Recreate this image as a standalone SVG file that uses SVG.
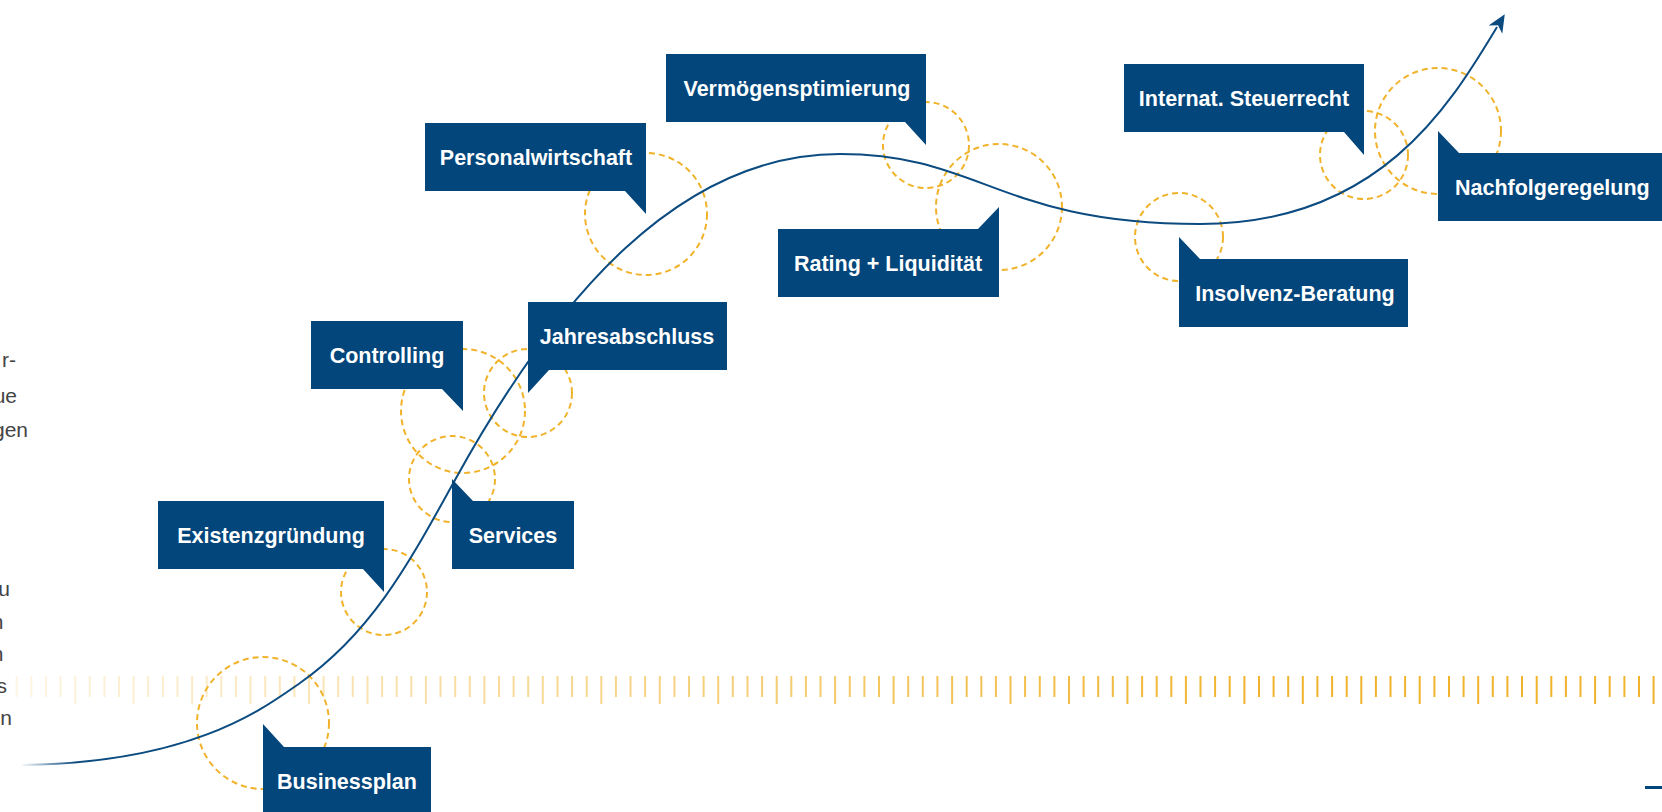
<svg xmlns="http://www.w3.org/2000/svg" width="1662" height="812" viewBox="0 0 1662 812">
<style>
.box{fill:#03467B}
.lbl{font-family:"Liberation Sans",Arial,sans-serif;font-weight:bold;font-size:21.5px;fill:#FFFFFF;text-anchor:middle}
.frag{font-family:"Liberation Sans",Arial,sans-serif;font-size:21px;fill:#444444;text-anchor:end}
.ring{fill:none;stroke:#F0B32B;stroke-width:2;stroke-dasharray:6 4}
.tick{fill:none;stroke:url(#tickGrad);stroke-width:2}
</style>
<defs>
<linearGradient id="tickGrad" gradientUnits="userSpaceOnUse" x1="0" y1="0" x2="1250" y2="0">
<stop offset="0" stop-color="#F0B32B" stop-opacity="0.12"/>
<stop offset="1" stop-color="#F0B32B" stop-opacity="1"/>
</linearGradient>
<linearGradient id="curveGrad" gradientUnits="userSpaceOnUse" x1="20" y1="0" x2="75" y2="0">
<stop offset="0" stop-color="#0B4B80" stop-opacity="0"/>
<stop offset="1" stop-color="#0B4B80" stop-opacity="1"/>
</linearGradient>
<marker id="arrow" markerUnits="userSpaceOnUse" viewBox="-4 -9 20 18" refX="0" refY="0" markerWidth="20" markerHeight="18" orient="auto" overflow="visible">
<path d="M15,0 L-3,-8 L2,0 L-3,8 Z" fill="#0B4B80"/>
</marker>
</defs>

<g id="side-text">
<text class="frag" x="16" y="367">r-</text>
<text class="frag" x="17" y="403">ue</text>
<text class="frag" x="28" y="437">gen</text>
<text class="frag" x="10" y="596">u</text>
<text class="frag" x="3.5" y="629">n</text>
<text class="frag" x="3.5" y="661">n</text>
<text class="frag" x="7" y="693">s</text>
<text class="frag" x="12" y="725">en</text>
</g>

<g id="ruler">
<path class="tick" d="M16.7,676v21M31.3,676v21M45.9,676v21M60.5,676v21M89.8,676v21M104.4,676v21M119,676v21M148.2,676v21M162.9,676v21M177.5,676v21M206.7,676v21M221.3,676v21M235.9,676v21M265.2,676v21M279.8,676v21M294.4,676v21M323.6,676v21M338.2,676v21M352.8,676v21M382.1,676v21M396.7,676v21M411.3,676v21M440.5,676v21M455.2,676v21M469.8,676v21M499,676v21M513.6,676v21M528.2,676v21M557.5,676v21M572.1,676v21M586.7,676v21M615.9,676v21M630.5,676v21M645.1,676v21M674.4,676v21M689,676v21M703.6,676v21M732.8,676v21M747.5,676v21M762.1,676v21M791.3,676v21M805.9,676v21M820.5,676v21M849.8,676v21M864.4,676v21M879,676v21M908.2,676v21M922.8,676v21M937.4,676v21M966.7,676v21M981.3,676v21M995.9,676v21M1025.1,676v21M1039.8,676v21M1054.4,676v21M1083.6,676v21M1098.2,676v21M1112.8,676v21M1142.1,676v21M1156.7,676v21M1171.3,676v21M1200.5,676v21M1215.1,676v21M1229.7,676v21M1259,676v21M1273.6,676v21M1288.2,676v21M1317.4,676v21M1332.1,676v21M1346.7,676v21M1375.9,676v21M1390.5,676v21M1405.1,676v21M1434.4,676v21M1449,676v21M1463.6,676v21M1492.8,676v21M1507.4,676v21M1522,676v21M1551.3,676v21M1565.9,676v21M1580.5,676v21M1609.7,676v21M1624.4,676v21M1639,676v21"/>
<path class="tick" d="M75.2,676v28M133.6,676v28M192.1,676v28M250.5,676v28M309,676v28M367.5,676v28M425.9,676v28M484.4,676v28M542.8,676v28M601.3,676v28M659.8,676v28M718.2,676v28M776.7,676v28M835.1,676v28M893.6,676v28M952.1,676v28M1010.5,676v28M1069,676v28M1127.4,676v28M1185.9,676v28M1244.4,676v28M1302.8,676v28M1361.3,676v28M1419.7,676v28M1478.2,676v28M1536.7,676v28M1595.1,676v28M1653.6,676v28"/>
</g>

<g id="rings">
<circle class="ring" cx="263" cy="723" r="66"/>
<circle class="ring" cx="384" cy="592" r="43"/>
<circle class="ring" cx="452" cy="479" r="43"/>
<circle class="ring" cx="463" cy="411" r="62"/>
<circle class="ring" cx="528" cy="393" r="44"/>
<circle class="ring" cx="646" cy="214" r="61"/>
<circle class="ring" cx="926" cy="145" r="43"/>
<circle class="ring" cx="999" cy="207" r="63"/>
<circle class="ring" cx="1179" cy="237" r="44"/>
<circle class="ring" cx="1364" cy="155" r="44"/>
<circle class="ring" cx="1438" cy="131" r="63"/>
</g>

<g id="connectors">
<path fill="none" stroke="url(#curveGrad)" stroke-width="2" marker-end="url(#arrow)" d="M22,765 C192,763 263.1,708.8 300,683 C373.7,631.4 411.5,558.2 455,480 C556.4,296 680,154 840,154 C980,154 1000,224 1200,224 C1380,224 1450.5,104 1497,27"/>
</g>

<g id="node-businessplan">
<path class="box" d="M263,724 L284,747 H431 V815 H263 Z"/>
<text class="lbl" x="347" y="789">Businessplan</text>
</g>
<g id="node-existenzgruendung">
<path class="box" d="M158,501 H384 V592 L363,569 H158 Z"/>
<text class="lbl" x="271" y="543">Existenzgründung</text>
</g>
<g id="node-services">
<path class="box" d="M452,479 L473,501 H574 V569 H452 Z"/>
<text class="lbl" x="513" y="543">Services</text>
</g>
<g id="node-controlling">
<path class="box" d="M311,321 H463 V411 L442,389 H311 Z"/>
<text class="lbl" x="387" y="363">Controlling</text>
</g>
<g id="node-jahresabschluss">
<path class="box" d="M528,302 H727 V370 H549 L528,393 Z"/>
<text class="lbl" x="627" y="344">Jahresabschluss</text>
</g>
<g id="node-personalwirtschaft">
<path class="box" d="M425,123 H646 V214 L625,191 H425 Z"/>
<text class="lbl" x="536" y="165">Personalwirtschaft</text>
</g>
<g id="node-vermoegen">
<path class="box" d="M666,54 H926 V145 L905,122 H666 Z"/>
<text class="lbl" x="797" y="96">Vermögensptimierung</text>
</g>
<g id="node-rating">
<path class="box" d="M778,229 H978 L999,207 V297 H778 Z"/>
<text class="lbl" x="888" y="271">Rating + Liquidität</text>
</g>
<g id="node-insolvenz">
<path class="box" d="M1179,237 L1200,259 H1408 V327 H1179 Z"/>
<text class="lbl" x="1295" y="301">Insolvenz-Beratung</text>
</g>
<g id="node-steuerrecht">
<path class="box" d="M1124,64 H1364 V155 L1344,132 H1124 Z"/>
<text class="lbl" x="1244" y="106">Internat. Steuerrecht</text>
</g>
<g id="node-nachfolge">
<path class="box" d="M1438,131 L1459,153 H1670 V221 H1438 Z"/>
<text class="lbl" x="1455" y="195" style="text-anchor:start">Nachfolgeregelung</text>
</g>

<rect x="1645" y="786" width="17" height="3" fill="#03467B"/>
</svg>
